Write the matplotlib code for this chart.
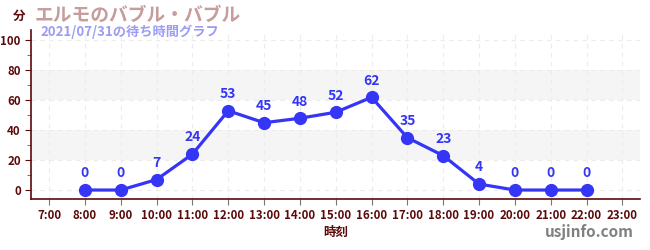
import matplotlib
matplotlib.use("Agg")
import matplotlib.pyplot as plt
from matplotlib.ticker import MultipleLocator

plt.rcParams['font.family'] = ['Noto Sans CJK JP', 'DejaVu Sans']

# --- data ---
hours = [8, 9, 10, 11, 12, 13, 14, 15, 16, 17, 18, 19, 20, 21, 22]
waits = [0, 0, 7, 24, 53, 45, 48, 52, 62, 35, 23, 4, 0, 0, 0]
tick_hours = list(range(7, 24))
tick_labels = [f"{h}:00" for h in tick_hours]

title = "エルモのバブル・バブル"
subtitle = "2021/07/31の待ち時間グラフ"

axis_col = "#5c0a0a"
line_col = "#3535f5"

fig = plt.figure(figsize=(6.5, 2.5), dpi=100)
ax = fig.add_axes([0.048, 0.204, 0.937, 0.676])

# shaded bands
for lo, hi in [(20, 40), (60, 80)]:
    ax.axhspan(lo, hi, color="#f5f5f5", zorder=0, lw=0)

ax.plot(hours, waits, color=line_col, lw=2.3, marker="o", ms=8.5, zorder=3)
for h, w in zip(hours, waits):
    ax.annotate(str(w), (h, w), xytext=(0, 7), textcoords="offset points",
                ha="center", va="bottom", color=line_col, fontsize=10,
                fontweight="bold")

ax.set_xlim(6.5, 23.5)
ax.set_ylim(-6, 107)
ax.set_xticks(tick_hours)
ax.set_xticklabels(tick_labels)
ax.yaxis.set_major_locator(MultipleLocator(20))
ax.yaxis.set_minor_locator(MultipleLocator(10))
ax.grid(True, which="major", color="#ececec", ls=(0, (4, 4)), lw=0.8)

for s in ["top", "right"]:
    ax.spines[s].set_visible(False)
for s in ["left", "bottom"]:
    ax.spines[s].set_color(axis_col)
    ax.spines[s].set_linewidth(1.2)

ax.tick_params(axis="x", colors="#777777", length=4, labelsize=8.3,
               labelcolor=axis_col, pad=3)
ax.tick_params(axis="y", which="major", colors=axis_col, length=4,
               labelsize=8.3, labelcolor=axis_col)
ax.tick_params(axis="y", which="minor", colors="#dd2222", length=3)
for lab in ax.get_xticklabels() + ax.get_yticklabels():
    lab.set_fontweight("bold")

ax.set_xlabel("時刻", color=axis_col, fontsize=9, fontweight="bold", labelpad=3)

fig.text(0.03, 0.935, "分", color=axis_col, fontsize=9, fontweight="bold",
         ha="center", va="center")
fig.text(0.054, 0.94, title, color="#c79c9c", fontsize=13.5, fontweight="bold",
         ha="left", va="center")
fig.text(0.063, 0.873, subtitle, color="#9c9cf5", fontsize=9.5,
         fontweight="bold", ha="left", va="center")
fig.text(0.975, 0.07, "usjinfo.com", color="#808080", fontsize=11,
         fontweight="bold", ha="right", va="center")

fig.savefig("out.png", dpi=100)
